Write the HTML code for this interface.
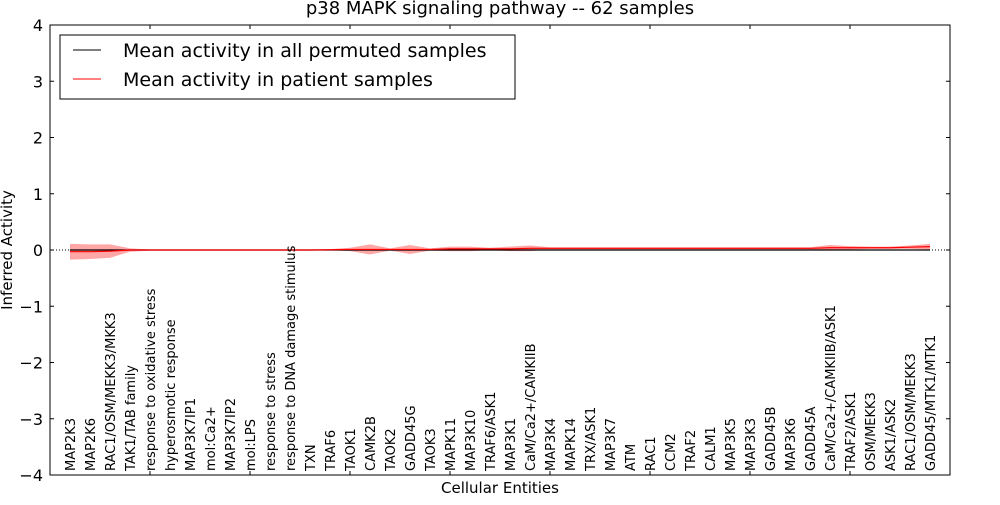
<!DOCTYPE html>
<html><head><meta charset="utf-8"><style>
body{margin:0;background:#fff}
svg text{font-family:"DejaVu Sans","Liberation Sans",sans-serif}
</style></head><body>
<svg id="chart" width="1000" height="500" xmlns="http://www.w3.org/2000/svg">
<text x="500" y="14" font-size="18" text-anchor="middle">p38 MAPK signaling pathway -- 62 samples</text>
<g id="plot"></g>
<rect x="50" y="25" width="900" height="450" fill="none" stroke="#000" stroke-width="1"/>
<text transform="translate(12,250) rotate(-90)" font-size="15" text-anchor="middle">Inferred Activity</text>
<text x="500" y="493" font-size="15" text-anchor="middle">Cellular Entities</text>
<g>
<rect x="60" y="35" width="455" height="64" fill="#fff" stroke="#000"/>
<line x1="73" y1="50" x2="101" y2="50" stroke="#000"/>
<text x="123" y="57" font-size="19">Mean activity in all permuted samples</text>
<line x1="73" y1="79" x2="101" y2="79" stroke="red"/>
<text x="123" y="86" font-size="19">Mean activity in patient samples</text>
</g>
</svg>
<script>
const categories=["MAP2K3","MAP2K6","RAC1/OSM/MEKK3/MKK3","TAK1/TAB family","response to oxidative stress","hyperosmotic response","MAP3K7IP1","mol:Ca2+","MAP3K7IP2","mol:LPS","response to stress","response to DNA damage stimulus","TXN","TRAF6","TAOK1","CAMK2B","TAOK2","GADD45G","TAOK3","MAPK11","MAP3K10","TRAF6/ASK1","MAP3K1","CaM/Ca2+/CAMKIIB","MAP3K4","MAPK14","TRX/ASK1","MAP3K7","ATM","RAC1","CCM2","TRAF2","CALM1","MAP3K5","MAP3K3","GADD45B","MAP3K6","GADD45A","CaM/Ca2+/CAMKIIB/ASK1","TRAF2/ASK1","OSM/MEKK3","ASK1/ASK2","RAC1/OSM/MEKK3","GADD45/MTK1/MTK1"];
const permMean=[0,0,0,0,0,0,0,0,0,0,0,0,0,0,0,0,0,0,0,0,0,0,0,0,0,0,0,0,0,0,0,0,0,0,0,0,0,0,0,0,0,0,0,0];
const patientMean=[-0.03,-0.03,-0.02,0,0,0,0,0,0,0,0,0,0,0.005,0.01,0.01,0.01,0.01,0.01,0.02,0.02,0.02,0.02,0.03,0.03,0.03,0.03,0.03,0.03,0.03,0.03,0.03,0.03,0.03,0.03,0.03,0.03,0.03,0.04,0.04,0.04,0.04,0.05,0.06];
const patientSpread=[0.14,0.13,0.12,0.03,0.01,0.01,0.01,0.01,0.01,0.01,0.01,0.01,0.01,0.01,0.03,0.09,0.02,0.08,0.02,0.04,0.04,0.02,0.04,0.05,0.02,0.02,0.02,0.02,0.02,0.02,0.02,0.02,0.02,0.02,0.02,0.02,0.02,0.02,0.05,0.03,0.02,0.02,0.03,0.05];
const yTicks=[-4,-3,-2,-1,0,1,2,3,4];
const xTicks=[5,10,15,20,25,30,35,40];
const NS="http://www.w3.org/2000/svg";
const X=i=>50+(i)*20; // category position i (1-based)
const Y=v=>250-v*56.25;
const svg=document.getElementById('chart');
const plot=document.getElementById('plot');
function mk(t,a,p){const e=document.createElementNS(NS,t);for(const k in a)e.setAttribute(k,a[k]);(p||plot).appendChild(e);return e;}
// band
let up=patientMean.map((m,i)=>X(i+1)+','+Y(m+patientSpread[i]));
let dn=patientMean.map((m,i)=>X(i+1)+','+Y(m-patientSpread[i])).reverse();
const band=mk('polygon',{points:up.concat(dn).join(' '),fill:'rgba(255,0,0,0.35)',stroke:'none'});


const zl=mk('line',{x1:50,x2:950,y1:Y(0),y2:Y(0),stroke:'#000','stroke-dasharray':'1,2'});


const pl=mk('polyline',{points:permMean.map((m,i)=>X(i+1)+','+Y(m)).join(' '),fill:'none',stroke:'#000','stroke-width':1.2});


const rl=mk('polyline',{points:patientMean.map((m,i)=>X(i+1)+','+Y(m)).join(' '),fill:'none',stroke:'red','stroke-width':1.2});


yTicks.forEach(v=>{
  mk('line',{x1:50,x2:54,y1:Y(v),y2:Y(v),stroke:'#000'});
  mk('line',{x1:946,x2:950,y1:Y(v),y2:Y(v),stroke:'#000'});
  const t=mk('text',{x:43,y:Y(v)+6,'font-size':16,'text-anchor':'end'},svg);
  t.textContent=v<0?'\u2212'+(-v):String(v);
  
  
});
xTicks.forEach(v=>{
  mk('line',{x1:X(v),x2:X(v),y1:25,y2:29,stroke:'#000'});
  mk('line',{x1:X(v),x2:X(v),y1:471,y2:475,stroke:'#000'});
});
categories.forEach((c,i)=>{
  const t=mk('text',{transform:`translate(${X(i+1)+5},471) rotate(-90)`,'font-size':13},svg);
  t.textContent=c;
  
  
});
</script>
</body></html>
